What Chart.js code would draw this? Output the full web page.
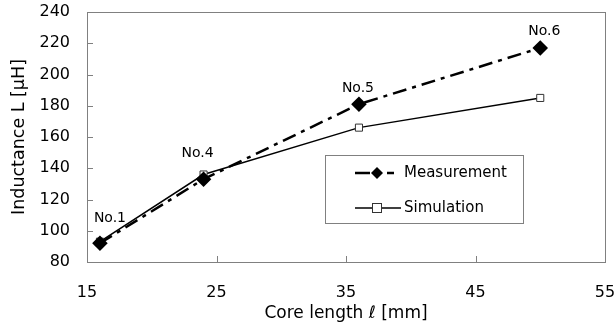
<!DOCTYPE html>
<html>
<head>
<meta charset="utf-8">
<script src="https://cdn.jsdelivr.net/npm/chart.js@4/dist/chart.umd.min.js"></script>
<style>
  html, body { margin: 0; padding: 0; background: #fff; }
  #wrap { width: 616px; height: 328px; }
</style>
</head>
<body>
<div id="wrap"><canvas id="chart" width="616" height="328"></canvas></div>
<script>
const coreLength = [16, 24, 36, 50];
const measurement = [92, 133, 181, 217];
const simulation = [93, 136, 166, 185];
const sampleNames = ["No.1", "No.4", "No.5", "No.6"];
const xTicks = [15, 25, 35, 45, 55];
const yTicks = [80, 100, 120, 140, 160, 180, 200, 220, 240];

const FONT = "'DejaVu Sans', sans-serif";

function toPoints(xs, ys) {
    return xs.map((x, i) => ({ x: x, y: ys[i] }));
}

// frame, inward ticks, sample labels and the boxed legend
const decorations = {
    id: 'decorations',
    afterDraw(chart) {
        const ctx = chart.ctx;
        const a = chart.chartArea;
        const xs = chart.scales.x, ys = chart.scales.y;
        ctx.save();
        ctx.strokeStyle = '#808080';
        ctx.lineWidth = 1;
        ctx.strokeRect(a.left + 0.5, a.top + 0.5, a.right - a.left, a.bottom - a.top);
        ctx.beginPath();
        xTicks.forEach(v => {
            const px = Math.round(xs.getPixelForValue(v)) + 0.5;
            ctx.moveTo(px, a.bottom);
            ctx.lineTo(px, a.bottom - 6);
        });
        yTicks.forEach(v => {
            const py = Math.round(ys.getPixelForValue(v)) + 0.5;
            ctx.moveTo(a.left, py);
            ctx.lineTo(a.left + 6, py);
        });
        ctx.stroke();

        // sample names above the measurement points
        ctx.fillStyle = '#000';
        ctx.font = '14px ' + FONT;
        ctx.textAlign = 'center';
        ctx.textBaseline = 'middle';
        const offs = [[10, -25], [-6, -26], [-1, -16], [4, -17]];
        sampleNames.forEach((n, i) => {
            const px = xs.getPixelForValue(coreLength[i]);
            const py = ys.getPixelForValue(measurement[i]);
            ctx.fillText(n, px + offs[i][0], py + offs[i][1]);
        });

        // legend box
        const bx = 325, by = 155, bw = 198, bh = 68;
        ctx.strokeStyle = '#808080';
        ctx.strokeRect(bx + 0.5, by + 0.5, bw, bh);
        ctx.strokeStyle = '#000';
        ctx.fillStyle = '#000';
        // measurement entry
        let ly = by + 18;
        ctx.lineWidth = 2.5;
        ctx.beginPath();
        ctx.moveTo(355, ly); ctx.lineTo(370, ly);
        ctx.moveTo(387, ly); ctx.lineTo(394, ly);
        ctx.stroke();
        ctx.beginPath();
        ctx.moveTo(377, ly - 6); ctx.lineTo(383, ly); ctx.lineTo(377, ly + 6); ctx.lineTo(371, ly);
        ctx.closePath();
        ctx.fill();
        // simulation entry
        ly = by + 53;
        ctx.lineWidth = 1.5;
        ctx.beginPath();
        ctx.moveTo(355, ly); ctx.lineTo(401, ly);
        ctx.stroke();
        ctx.fillStyle = '#fff';
        ctx.fillRect(372, ly - 5, 10, 10);
        ctx.lineWidth = 1;
        ctx.strokeStyle = '#333';
        ctx.strokeRect(372.5, ly - 4.5, 9, 9);
        ctx.fillStyle = '#000';
        ctx.font = '15px ' + FONT;
        ctx.textAlign = 'left';
        ctx.fillText('Measurement', 404, by + 18);
        ctx.fillText('Simulation', 404, by + 53);
        ctx.restore();
    }
};

function noEdgePadding(s) {
    s.paddingTop = 0;
    s.paddingBottom = 0;
    s.paddingLeft = 0;
    s.paddingRight = 0;
}

new Chart(document.getElementById('chart'), {
    type: 'scatter',
    data: {
        datasets: [
            {
                label: 'Measurement',
                data: toPoints(coreLength, measurement),
                showLine: true,
                borderColor: '#000',
                borderWidth: 2.5,
                borderDash: [14, 6, 4, 6],
                pointStyle: 'rectRot',
                pointRadius: 6,
                backgroundColor: '#000',
                pointBorderColor: '#000',
                order: 1
            },
            {
                label: 'Simulation',
                data: toPoints(coreLength, simulation),
                showLine: true,
                borderColor: '#000',
                borderWidth: 1.5,
                pointStyle: 'rect',
                pointRadius: 5,
                pointBackgroundColor: '#fff',
                pointBorderColor: '#333',
                pointBorderWidth: 1,
                order: 2
            }
        ]
    },
    options: {
        responsive: false,
        animation: false,
        layout: { padding: { top: 12, right: 11, left: 0, bottom: 0 } },
        plugins: { legend: { display: false }, tooltip: { enabled: false } },
        scales: {
            x: {
                type: 'linear',
                min: 15, max: 55,
                afterBuildTicks: s => { s.ticks = xTicks.map(v => ({ value: v })); },
                afterFit: s => { s.height = 66; noEdgePadding(s); },
                grid: { display: false, drawTicks: false },
                border: { display: false },
                ticks: { color: '#000', font: { family: FONT, size: 16 }, padding: 21 },
                title: { display: true, text: 'Core length ℓ [mm]', color: '#000', font: { family: FONT, size: 17 }, padding: { top: 0 } }
            },
            y: {
                min: 80, max: 240,
                afterBuildTicks: s => { s.ticks = yTicks.map(v => ({ value: v })); },
                afterFit: s => { s.width = 87; noEdgePadding(s); },
                grid: { display: false, drawTicks: false },
                border: { display: false },
                ticks: { color: '#000', font: { family: FONT, size: 16 }, padding: 17 },
                title: { display: true, text: 'Inductance L [μH]', color: '#000', font: { family: FONT, size: 17.5 }, padding: { top: 9 } }
            }
        }
    },
    plugins: [decorations]
});
</script>
</body>
</html>
